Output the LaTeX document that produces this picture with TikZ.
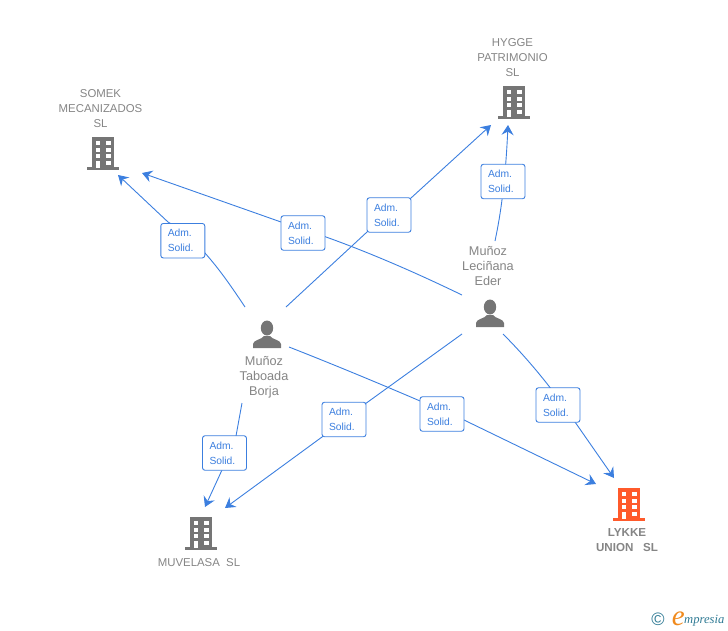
\documentclass[tikz,border=0pt]{standalone}
\usepackage{fontspec}
\setmainfont{Liberation Sans}
\newfontfamily\logofont{Liberation Serif}
\usetikzlibrary{arrows.meta}
\definecolor{linkblue}{HTML}{3C7FDF}
\definecolor{icongray}{HTML}{757575}
\definecolor{textgray}{HTML}{858585}
\definecolor{hotorange}{HTML}{FF5A2B}
\definecolor{logoteal}{HTML}{2F7A94}
\definecolor{logoorange}{HTML}{F08A1D}
\tikzset{
  x=1pt,y=-1pt,
  link/.style={draw=linkblue,line width=0.9pt,-{Stealth[length=10pt,width=12pt,inset=3.5pt]}},
  badge/.style={draw=linkblue,line width=0.9pt,fill=white,rounded corners=2.5pt,minimum width=44pt,minimum height=34.5pt,inner sep=0pt,text width=30pt,align=left,text=linkblue,font=\fontsize{10.3}{15}\selectfont},
  cname/.style={text=textgray,align=center,inner sep=0pt,font=\fontsize{11.4}{15}\selectfont},
  pname/.style={text=textgray,align=center,inner sep=0pt,font=\fontsize{12.7}{15}\selectfont},
  pics/building/.style={code={
    \fill[#1] (-11,0) rectangle (11,30);
    \fill[#1] (-16,30) rectangle (16,33);
    \foreach \wx in {-7.5,2.8}{\foreach \wy in {4,11,17}{
      \fill[white] (\wx,\wy) rectangle ++(4.7,4.2);}}
    \fill[white] (2.8,24) rectangle ++(4.7,4.2);
    \fill[white] (-7.5,24) rectangle ++(4.7,7);
  }},
  pics/person/.style={code={
    \fill[icongray] (0,-7) ellipse (6.2 and 7.5);
    \fill[icongray] (-14,13) -- (-14,9) .. controls (-14,5) and (-5,4.5) .. (-3,1) -- (3,1) .. controls (5,4.5) and (14,5) .. (14,9) -- (14,13) -- cycle;
  }}
}
\begin{document}
\begin{tikzpicture}
\useasboundingbox (0,0) rectangle (728,630);
% icons
\pic at (103,137) {building=icongray};
\pic at (514,86) {building=icongray};
\pic at (201,517) {building=icongray};
\pic at (629,488) {building=hotorange};
\pic at (267,335) {person};
\pic at (490,314) {person};
% names
\node[cname] (somek) at (100.5,108.7) {SOMEK\\MECANIZADOS\\SL};
\node[cname] (hygge) at (512.5,57.7) {HYGGE\\PATRIMONIO\\SL};
\node[cname] (muvelasa) at (199,562.5) {MUVELASA\ \ SL};
\node[cname,font=\bfseries\fontsize{11.6}{15}\selectfont] (lykke) at (627,540.5) {LYKKE\\UNION\ \ \ SL};
\node[pname] (borja) at (264,377.5) {Muñoz\\Taboada\\Borja};
\node[pname] (eder) at (488,266) {Muñoz\\Leciñana\\Eder};
% connector ends
\coordinate (bSo) at (245,307);
\coordinate (bHy) at (286,307);
\coordinate (bLy) at (289,347);
\coordinate (bMu) at (242,403);
\coordinate (eSo) at (462,295);
\coordinate (eHy) at (495,241);
\coordinate (eMu) at (462,334);
\coordinate (eLy) at (503,334);
\coordinate (tSoA) at (118,175);
\coordinate (tSoB) at (142,173);
\coordinate (tHyA) at (491,125);
\coordinate (tHyB) at (508,125);
\coordinate (tMuA) at (205,507);
\coordinate (tMuB) at (225,508);
\coordinate (tLyA) at (596,484);
\coordinate (tLyB) at (614,478);
% connectors
\draw[link] (bSo) .. controls (225,277) and (200,240) .. (168,222) -- (tSoA);
\draw[link] (eSo) .. controls (400,265) and (340,240) .. (281,222) -- (tSoB);
\draw[link] (bHy) -- (367,232) -- (411,198) -- (tHyA);
\draw[link] (eHy) .. controls (499,222) and (505,190) .. (tHyB);
\draw[link] (eMu) -- (365,404) -- (322,437) -- (tMuB);
\draw[link] (eLy) .. controls (525,356) and (550,385) .. (575,422) -- (tLyB);
\draw[link] (bLy) .. controls (340,367) and (400,392) .. (464,420) -- (tLyA);
\draw[link] (bMu) -- (236,436) -- (222,470) -- (tMuA);
% badges
\node[badge] (l1) at (182.8,240.7) {Adm.\\Solid.};
\node[badge] (l2) at (303,233) {Adm.\\Solid.};
\node[badge] (l3) at (389,215) {Adm.\\Solid.};
\node[badge] (l4) at (503,181.5) {Adm.\\Solid.};
\node[badge] (l5) at (344,419.5) {Adm.\\Solid.};
\node[badge] (l6) at (558,405) {Adm.\\Solid.};
\node[badge] (l7) at (442,414) {Adm.\\Solid.};
\node[badge] (l8) at (224.5,453) {Adm.\\Solid.};
% logo
\node[inner sep=0pt,text=logoteal,font=\fontsize{18}{18}\selectfont] (copy) at (658,619.5) {©};
\node[inner sep=0pt,anchor=base west,text=logoteal,font=\logofont\itshape\fontsize{12.6}{15}\selectfont] (logo) at (684,623.5) {mpresia};
\node[inner sep=0pt,anchor=base east,text=logoorange,font=\logofont\itshape\fontsize{29}{29}\selectfont] (logoe) at (685,625) {e};
\end{tikzpicture}
\end{document}
